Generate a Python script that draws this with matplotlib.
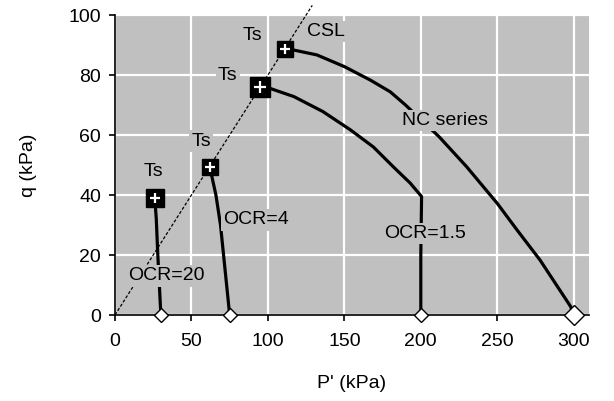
#!/usr/bin/env python3
import matplotlib
matplotlib.use("Agg")
import matplotlib.pyplot as plt

# critical state line
CSL_P = [0, 129]
CSL_Q = [0, 103.2]

# stress paths (p', q) in kPa
NC_P = [300, 298, 278, 263, 250, 230, 212, 190, 180, 167, 150, 132, 117, 111]
NC_Q = [0, 2.8, 18.3, 28.3, 37.2, 49.4, 59.4, 70, 74.4, 78.3, 82.8, 86.7, 88.3, 88.6]

OCR15_P = [200, 200, 200.5, 193, 182, 169, 154, 136, 117, 101, 95]
OCR15_Q = [0, 20, 39.5, 44, 49.4, 56, 61.7, 67.8, 72.8, 75.6, 76]

OCR4_P = [75, 72, 69, 66, 63, 62]
OCR4_Q = [0, 15, 30, 40, 47, 49.5]

OCR20_P = [30, 29, 28, 27, 26]
OCR20_Q = [0, 10, 20, 32, 39]

# start points and end points
START_P = [30, 75, 200, 300]
TS_P = [26, 62, 95, 111]
TS_Q = [39, 49.5, 76, 88.6]

LABELS = [("Ts", 25, 48), ("Ts", 56.5, 58), ("Ts", 73.7, 79.7), ("Ts", 90, 93.3),
          ("CSL", 138, 94.5), ("NC series", 216, 64.8), ("OCR=4", 92.3, 31.7),
          ("OCR=20", 33.8, 13), ("OCR=1.5", 203, 27.2)]

GREY = "#c0c0c0"


def main():
    plt.rcParams.update({'font.family': ['Liberation Sans', 'DejaVu Sans'], 'font.size': 14})

    fig = plt.figure(figsize=(6.14, 4.01), dpi=100)
    ax = fig.add_axes([115 / 614, 1 - 315 / 401, 474 / 614, 300 / 401])
    ax.set_facecolor(GREY)

    ax.plot(CSL_P, CSL_Q, color='black', lw=0.9, ls=(0, (2.5, 1.5)), clip_on=False, zorder=3)
    for p, q in [(NC_P, NC_Q), (OCR15_P, OCR15_Q), (OCR4_P, OCR4_Q), (OCR20_P, OCR20_Q)]:
        ax.plot(p, q, color='black', lw=2.3, solid_capstyle='butt', solid_joinstyle='round', zorder=3)

    for txt, x, y in LABELS:
        ax.text(x, y, txt, ha='center', va='center', zorder=5,
                bbox=dict(facecolor=GREY, edgecolor='none', pad=1.5))

    ax.plot(START_P[:3], [0] * 3, ls='none', marker='D', ms=7, mfc='white', mec='black',
            mew=1.0, clip_on=False, zorder=6)
    ax.plot(START_P[3:], [0], ls='none', marker='D', ms=10, mfc='white', mec='black',
            mew=1.0, clip_on=False, zorder=6)

    sizes = [13, 11, 15, 12]
    for p, q, s in zip(TS_P, TS_Q, sizes):
        ax.plot([p], [q], marker='s', ms=s, color='black', ls='none', zorder=6)
        ax.plot([p], [q], marker='+', ms=s * 0.6, mec='white', mew=1.6, ls='none', zorder=7)

    ax.set_xlim(0, 310)
    ax.set_ylim(0, 100)
    ax.set_xticks([0, 50, 100, 150, 200, 250, 300])
    ax.set_yticks([0, 20, 40, 60, 80, 100])
    ax.grid(True, color='white', lw=1.6)
    ax.set_axisbelow(True)
    for s in ['top', 'right']:
        ax.spines[s].set_visible(False)
    ax.spines['left'].set_linewidth(1.2)
    ax.spines['bottom'].set_linewidth(1.2)
    ax.tick_params(axis='x', length=4, width=1.2, pad=9)
    ax.tick_params(axis='y', length=4, width=1.2, pad=6)

    ax.set_xlabel("P' (kPa)")
    ax.set_ylabel("q (kPa)")
    ax.xaxis.set_label_coords(0.5, -0.2)
    ax.yaxis.set_label_coords(-0.165, 0.5)

    fig.savefig("out.png", dpi=100)


if __name__ == '__main__':
    main()
